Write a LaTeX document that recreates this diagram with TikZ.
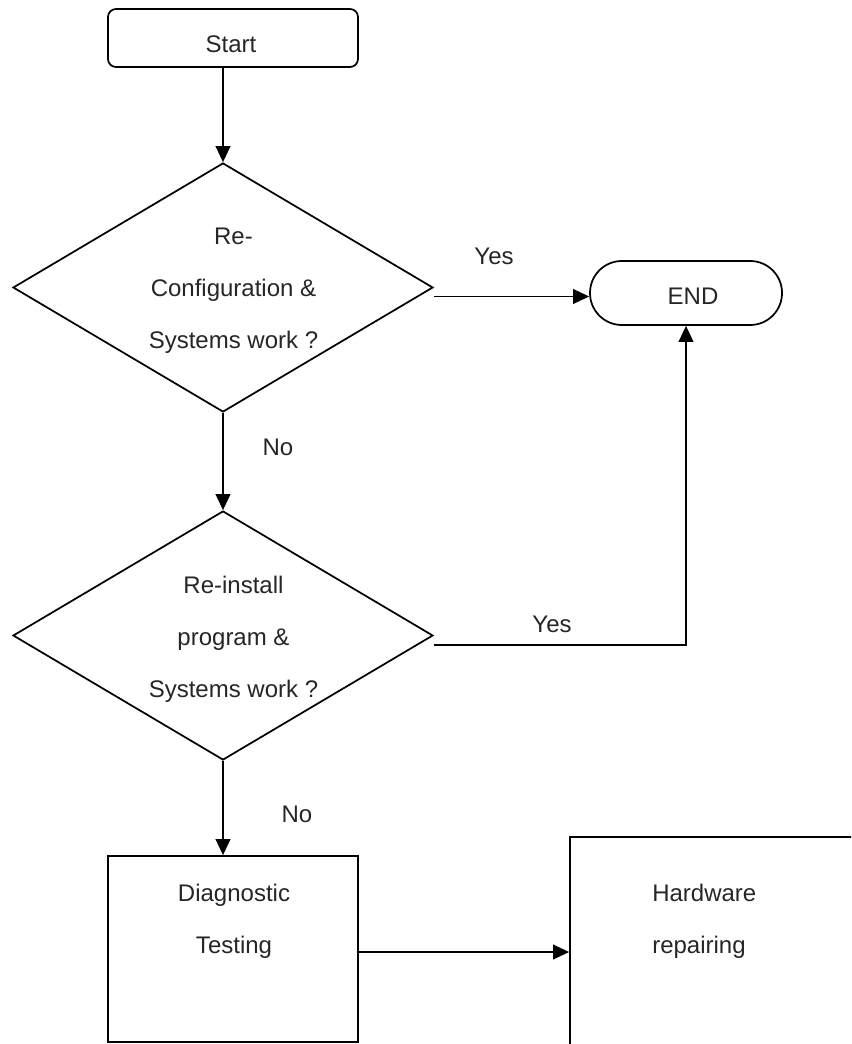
\documentclass[tikz,border=0pt]{standalone}
\usepackage{fontspec}
\setmainfont{Liberation Sans}
\usetikzlibrary{arrows.meta,shapes.geometric}
\begin{document}
\begin{tikzpicture}[x=0.75pt,y=-0.75pt,
  every node/.style={font=\fontsize{18pt}{39pt}\selectfont, text=black!85},
  ln/.style={line width=1.3pt},
  arr/.style={ln,-{Triangle[length=12pt,width=11pt]}},
  startbox/.style={draw,ln,rounded corners=6pt,minimum width=187.5pt,minimum height=43.5pt,inner sep=0pt},
  endbox/.style={draw,ln,rounded corners=23.9pt,minimum width=144pt,minimum height=48pt,inner sep=0pt},
  decbox/.style={draw,ln,diamond,minimum width=315pt,minimum height=186.75pt,inner sep=0pt},
  procbox/.style={draw,ln,rectangle,minimum width=187.5pt,minimum height=139.5pt,inner sep=0pt},
  txt/.style={align=center,inner sep=0pt},
  lbl/.style={anchor=base,inner sep=0pt}
]
\useasboundingbox (0,0) rectangle (851,1044);
\clip (0,0) rectangle (851,1044);

% shapes
\node[startbox] (start) at (233,38) {};
\node[lbl] (startT) at (231,53) {Start};

\node[decbox] (d1) at (223,287.5) {};
\node[txt] (d1T) at (233.5,291) {Re-\\Configuration \&\\Systems work ?};

\node[endbox] (end) at (686,293) {};
\node[lbl] (endT) at (693,305) {END};

\node[decbox] (d2) at (223,635.5) {};
\node[txt] (d2T) at (233.5,639) {Re-install\\program \&\\Systems work ?};

\node[procbox] (diag) at (233,949) {};
\node[txt] (diagT) at (234,921) {Diagnostic\\Testing};

\node[procbox,minimum width=247.5pt,minimum height=197.25pt] (hw) at (735,968.5) {};
\node[txt,align=left,anchor=west] (hwT) at (652,921) {Hardware\\repairing};

% connectors
\draw[arr] (start.south -| d1.north) -- (d1.north);
\draw[arr] (d1.south) -- (d2.north);
\draw[arr] (d2.south) -- (d2.south |- diag.north);

\coordinate (y1) at ([yshift=-6.75pt]d1.east);
\draw[arr] (y1) -- (y1 -| end.west);

\coordinate (y2) at ([yshift=-7.1pt]d2.east);
\draw[arr] (y2) -| (end.south);

\coordinate (y3) at ([yshift=-2.25pt]diag.east);
\draw[arr] (y3) -- (y3 -| hw.west);

% labels
\node[lbl] (yes1) at (494,265) {Yes};
\node[lbl] (yes2) at (552,632) {Yes};
\node[lbl] (no1) at (278,455) {No};
\node[lbl] (no2) at (297,822) {No};
\end{tikzpicture}
\end{document}
